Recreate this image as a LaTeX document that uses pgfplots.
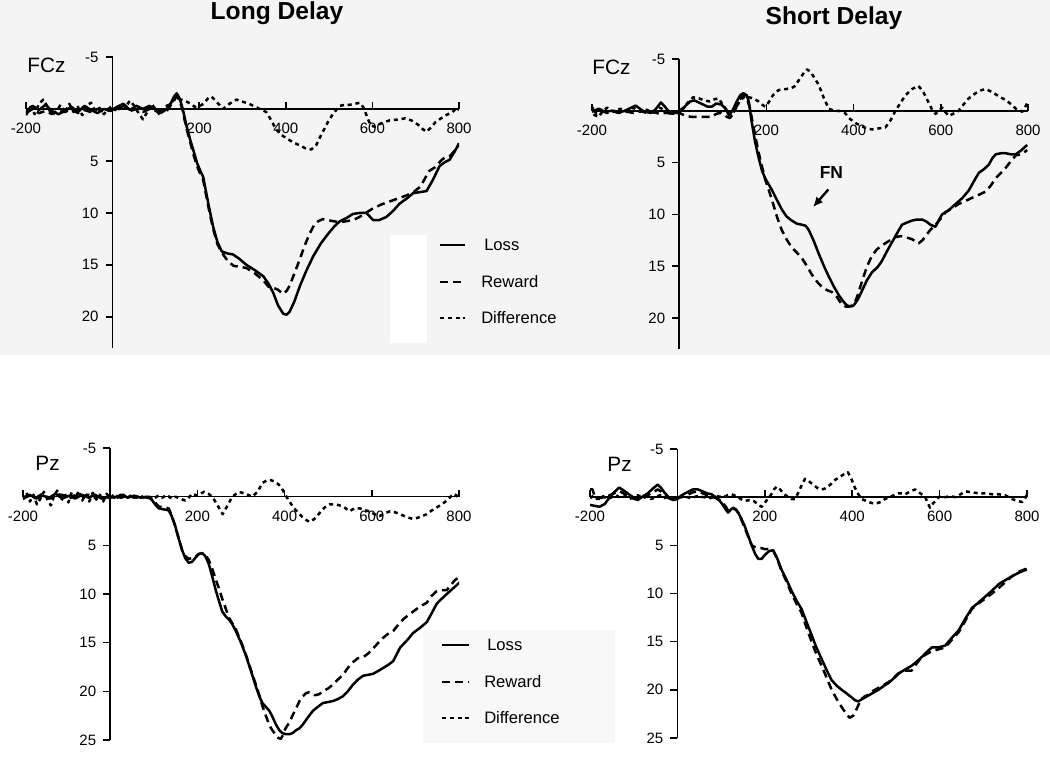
\documentclass[border=0pt]{standalone}
\usepackage{fontspec}
\setmainfont{Liberation Sans}
\usepackage{pgfplots}
\pgfplotsset{compat=1.18}
\usetikzlibrary{arrows.meta}

\definecolor{bandgray}{RGB}{244,244,244}
\definecolor{boxgray}{RGB}{248,248,248}

\tikzset{
  loss/.style={solid},
  reward/.style={dash pattern=on 4pt off 2.5pt},
  diff/.style={dash pattern=on 2pt off 1.9pt},
}
\pgfplotsset{
  erp/.style={
    scale only axis,
    axis lines=middle,
    axis line style={-, line width=0.75pt},
    y dir=reverse,
    xmin=-200, xmax=800,
    xtick={-200,200,400,600,800},
    xticklabels={-200,200,400,600,800},
    tick align=outside,
    major tick length=3.5pt,
    tick style={black, line width=0.75pt},
    tick label style={font=\fontsize{7.5}{9}\selectfont},
    every axis plot/.append style={line width=1.25pt, black, line join=round},
  },
}

\begin{document}
\begin{tikzpicture}
\useasboundingbox (0pt,0pt) rectangle (525pt,379pt);
% backgrounds of the scanned figure
\fill[bandgray] (0pt,201.5pt) rectangle (525pt,379pt);
\fill[white] (195pt,207.5pt) rectangle (213.5pt,261.5pt);
\fill[boxgray] (211.5pt,7.5pt) rectangle (307.5pt,64pt);

% titles
\node[anchor=base, font=\bfseries\fontsize{12.3}{14}\selectfont] at (138.5pt,369pt) {Long Delay};
\node[anchor=base, font=\bfseries\fontsize{12.3}{14}\selectfont] at (417pt,366.5pt) {Short Delay};

% ---------- Long delay, FCz ----------
\begin{axis}[erp, at={(13pt,350.5pt)}, anchor=north west,
  width=216.5pt, height=145.5pt, ymin=-5, ymax=23,
  ytick={-5,5,10,15,20}, yticklabels={-5,5,10,15,20}]
\addplot[loss] coordinates {
(-200,0.3) (-185,-0.3) (-170,0.1) (-155,-0.4) (-140,0.2) (-125,0.5) (-110,0.2) (-95,-0.2) (-80,0.3) (-65,-0.3) (-50,0.1) (-35,0.4) (-20,0.0) (-5,0.2) (10,-0.2) (25,-0.5) (40,0.1) (55,-0.3) (70,0.0) (85,-0.3) (100,0.1) (115,0.3) (125,0.0) (135,-0.6) (142,-1.2) (148,-1.5) (155,-1.0) (162,0.0) (170,1.5) (178,2.8) (186,3.9) (195,5.2) (203,6.0) (209,6.5) (215,7.8) (222,9.3) (232,11.3) (242,12.8) (252,13.7) (265,13.9) (278,14.0) (292,14.4) (309,15.0) (328,15.5) (348,16.1) (360,16.8) (371,17.7) (382,18.9) (394,19.7) (402,19.8) (409,19.5) (420,18.5) (432,17.1) (447,15.6) (463,14.2) (480,13.0) (498,12.0) (512,11.3) (525,10.8) (540,10.5) (555,10.1) (572,10.0) (586,10.0) (595,10.4) (602,10.7) (615,10.7) (632,10.4) (648,9.8) (663,9.1) (680,8.6) (694,8.1) (710,8.0) (725,7.9) (740,6.8) (755,5.5) (768,5.1) (778,4.9) (790,4.1) (800,3.3)
};
\addplot[reward] coordinates {
(-200,0.4) (-185,0.0) (-170,0.4) (-155,0.2) (-140,0.5) (-125,0.1) (-110,0.3) (-95,0.0) (-80,0.4) (-65,0.1) (-50,0.3) (-35,0.0) (-20,0.3) (-5,0.1) (10,0.0) (25,-0.3) (40,0.2) (55,0.0) (70,0.3) (85,0.0) (100,0.2) (115,0.4) (125,0.2) (135,-0.4) (142,-0.9) (148,-1.2) (155,-0.8) (162,0.2) (170,1.8) (178,3.0) (186,4.3) (195,5.5) (203,6.3) (209,6.8) (216,8.3) (224,10.0) (232,11.5) (242,13.0) (252,13.8) (262,14.4) (270,14.8) (280,15.1) (295,15.2) (309,15.3) (328,15.8) (348,16.5) (360,17.1) (371,17.2) (382,17.4) (394,17.8) (402,17.5) (409,17.0) (420,15.8) (432,14.5) (443,13.2) (455,12.0) (465,11.2) (475,10.8) (485,10.6) (497,10.7) (510,10.8) (525,10.9) (540,10.8) (555,10.7) (570,10.4) (585,10.0) (600,9.6) (620,9.2) (640,8.9) (660,8.6) (680,8.3) (695,8.0) (710,7.5) (720,6.8) (730,6.0) (745,5.6) (760,4.9) (770,4.6) (780,4.5) (790,4.0) (800,3.5)
};
\addplot[diff] coordinates {
(-200,0.6) (-190,-0.2) (-180,0.5) (-170,-0.5) (-160,-0.9) (-150,-0.2) (-140,0.6) (-130,0.2) (-120,-0.4) (-110,0.4) (-100,-0.5) (-90,0.3) (-80,-0.2) (-70,0.6) (-60,-0.3) (-50,-0.6) (-40,0.2) (-30,-0.1) (-20,0.5) (-10,0.0) (0,-0.3) (10,0.3) (20,-0.5) (30,-0.2) (40,-0.8) (50,-0.3) (60,0.4) (70,1.0) (80,0.3) (90,-0.5) (100,0.1) (110,0.6) (120,-0.2) (130,-0.4) (140,-0.8) (148,-1.0) (158,-0.9) (167,-0.8) (180,-0.5) (190,-0.2) (198,-0.2) (210,-0.5) (220,-1.0) (228,-1.2) (240,-0.7) (255,0.0) (270,-0.5) (286,-0.9) (300,-0.7) (315,-0.5) (325,-0.3) (340,0.0) (355,0.3) (365,1.0) (378,2.0) (390,2.5) (401,2.8) (416,3.2) (432,3.5) (446,3.8) (459,3.9) (470,3.5) (478,2.8) (488,2.0) (498,1.2) (510,0.4) (525,-0.3) (537,-0.4) (548,-0.4) (560,-0.5) (571,-0.6) (580,-0.1) (588,0.8) (596,1.6) (605,1.7) (615,1.5) (625,1.3) (640,1.1) (663,1.0) (676,0.9) (690,1.1) (705,1.5) (715,1.9) (725,2.2) (735,1.8) (745,1.3) (755,1.0) (770,0.6) (785,0.3) (795,-0.1) (800,0.1)
};
\end{axis}

% ---------- Short delay, FCz ----------
\begin{axis}[erp, at={(296pt,349.5pt)}, anchor=north west,
  width=218pt, height=145pt, ymin=-5, ymax=23,
  ytick={-5,5,10,15,20}, yticklabels={-5,5,10,15,20}]
\addplot[loss] coordinates {
(-200,0.1) (-185,-0.2) (-170,0.1) (-155,0.0) (-140,0.2) (-125,0.0) (-110,-0.3) (-100,-0.5) (-90,-0.2) (-80,0.1) (-65,0.2) (-55,-0.1) (-42,-0.8) (-35,-0.5) (-25,0.0) (-15,0.3) (-5,0.1) (5,0.0) (15,-0.5) (25,-0.9) (35,-1.0) (45,-0.8) (55,-0.6) (65,-0.4) (75,-0.4) (85,-0.7) (97,-0.6) (106,-0.2) (114,0.4) (122,0.0) (132,-0.9) (140,-1.5) (147,-1.7) (155,-1.5) (160,-0.8) (166,1.0) (174,3.0) (182,4.5) (190,5.8) (197,6.5) (205,7.1) (212,7.6) (224,8.6) (235,9.5) (246,10.2) (258,10.6) (270,10.9) (281,11.0) (290,11.1) (297,11.5) (308,12.5) (320,13.8) (332,15.0) (343,16.0) (355,17.0) (366,17.8) (376,18.4) (385,18.8) (393,18.9) (400,18.8) (410,18.2) (419,17.4) (430,16.4) (442,15.6) (455,15.1) (465,14.5) (476,13.6) (488,12.7) (500,11.8) (511,11.0) (522,10.8) (534,10.6) (545,10.5) (557,10.5) (567,10.7) (576,11.0) (588,11.2) (595,10.6) (603,10.0) (618,9.6) (634,9.0) (650,8.4) (664,7.7) (676,6.8) (687,6.0) (700,5.6) (710,5.2) (718,4.6) (726,4.2) (738,4.1) (749,4.1) (760,4.2) (772,4.2) (785,3.8) (798,3.3)
};
\addplot[reward] coordinates {
(-200,-0.3) (-190,0.3) (-180,0.0) (-165,0.2) (-150,0.0) (-135,0.2) (-120,0.1) (-105,0.2) (-90,0.0) (-75,0.2) (-60,0.1) (-45,0.3) (-30,0.2) (-15,0.3) (0,0.2) (15,0.5) (30,0.6) (45,0.6) (60,0.6) (74,0.6) (85,0.3) (95,0.2) (105,0.5) (116,0.7) (126,0.2) (135,-0.8) (142,-1.3) (147,-1.5) (155,-1.2) (162,-0.3) (170,1.5) (182,4.0) (190,5.4) (197,6.6) (205,7.6) (212,8.5) (224,10.2) (235,11.5) (246,12.4) (258,13.2) (270,13.7) (281,14.2) (293,15.0) (304,15.8) (316,16.5) (327,17.0) (338,17.3) (350,17.5) (362,18.0) (373,18.7) (382,18.9) (389,18.9) (397,18.8) (404,18.4) (411,17.6) (419,16.5) (430,15.1) (442,14.0) (453,13.4) (465,13.0) (480,12.6) (496,12.2) (508,12.1) (519,12.2) (534,12.4) (549,12.8) (558,12.5) (565,12.1) (576,11.5) (588,11.0) (600,10.4) (611,9.8) (626,9.4) (641,9.0) (657,8.7) (672,8.4) (688,8.1) (703,7.8) (715,7.2) (726,6.5) (738,6.0) (749,5.5) (760,4.9) (772,4.3) (785,4.2) (798,3.8)
};
\addplot[diff] coordinates {
(-200,-0.4) (-195,0.4) (-185,0.6) (-175,0.0) (-165,-0.3) (-150,0.1) (-135,-0.2) (-120,0.1) (-105,-0.3) (-90,0.1) (-75,-0.1) (-60,0.2) (-45,-0.3) (-30,0.0) (-15,0.2) (0,0.0) (10,-0.3) (20,-0.8) (32,-1.3) (45,-1.2) (58,-1.0) (70,-0.9) (80,-1.1) (90,-1.2) (100,-0.6) (110,0.0) (120,0.5) (130,-0.3) (140,-1.0) (151,-1.4) (160,-1.3) (170,-1.2) (182,-0.9) (190,-0.6) (197,-0.4) (205,-0.8) (215,-1.5) (228,-2.0) (245,-2.1) (258,-2.2) (266,-2.4) (275,-3.0) (285,-3.6) (293,-4.0) (300,-3.8) (310,-3.2) (320,-2.5) (332,-1.2) (343,-0.2) (355,0.0) (366,0.0) (380,0.2) (392,0.8) (405,1.2) (419,1.5) (430,1.7) (442,1.8) (458,1.7) (473,1.6) (485,0.9) (496,0.0) (508,-0.8) (519,-1.5) (534,-2.1) (549,-2.4) (560,-1.8) (572,-0.8) (580,-0.1) (588,0.3) (596,0.0) (603,-0.3) (610,0.1) (618,0.5) (628,0.3) (641,0.0) (652,-0.6) (664,-1.2) (680,-1.7) (694,-2.0) (703,-2.1) (718,-1.8) (733,-1.4) (750,-1.0) (762,-0.6) (772,-0.2) (787,0.1) (798,-0.7)
};
\draw[-{Latex[length=5pt,width=4.5pt]}, line width=1.2pt] (axis cs:342,7.6) -- (axis cs:307,9.3);
\node[font=\bfseries\fontsize{8.7}{10}\selectfont] at (axis cs:349,6.0) {FN};
\end{axis}

% ---------- Long delay, Pz ----------
\begin{axis}[erp, at={(11.5pt,155pt)}, anchor=north west,
  width=218pt, height=146pt, ymin=-5, ymax=25,
  ytick={-5,5,10,15,20,25}, yticklabels={-5,5,10,15,20,25}]
\addplot[loss] coordinates {
(-200,0.1) (-185,-0.2) (-170,0.2) (-155,-0.1) (-140,0.1) (-125,-0.3) (-110,0.2) (-95,-0.1) (-80,0.2) (-65,-0.2) (-50,0.1) (-35,-0.2) (-20,0.2) (-5,0.0) (10,0.1) (25,-0.2) (40,0.1) (55,-0.1) (70,0.1) (85,0.0) (95,0.3) (103,0.8) (111,1.2) (122,1.3) (134,1.4) (141,2.0) (149,3.0) (157,4.3) (165,5.5) (172,6.3) (180,6.8) (188,6.7) (195,6.3) (203,5.9) (211,5.8) (218,6.1) (226,6.9) (234,8.2) (242,9.6) (250,10.8) (257,11.8) (265,12.3) (272,12.6) (280,13.1) (288,13.8) (300,15.0) (311,16.3) (322,17.8) (334,19.5) (342,20.5) (349,21.2) (357,21.6) (365,22.0) (372,22.6) (380,23.4) (388,24.0) (395,24.3) (403,24.4) (411,24.4) (418,24.3) (426,24.0) (434,23.8) (442,23.4) (453,22.7) (465,22.0) (476,21.6) (488,21.2) (500,21.1) (511,21.0) (522,20.8) (534,20.5) (545,20.0) (557,19.3) (568,18.8) (580,18.4) (592,18.3) (603,18.2) (615,17.9) (626,17.6) (637,17.3) (649,16.9) (657,16.2) (665,15.5) (680,14.8) (695,14.0) (710,13.5) (726,12.9) (737,12.0) (749,11.0) (760,10.5) (772,10.0) (787,9.4) (802,8.8)
};
\addplot[reward] coordinates {
(-200,0.2) (-185,-0.1) (-170,0.1) (-155,-0.3) (-140,0.2) (-125,0.0) (-110,-0.2) (-95,0.2) (-80,-0.1) (-65,0.1) (-50,-0.2) (-35,0.1) (-20,-0.1) (-5,0.1) (10,0.0) (25,0.1) (40,-0.1) (55,0.1) (70,0.0) (85,0.1) (95,0.2) (103,0.6) (111,1.0) (122,1.1) (134,1.2) (141,1.9) (149,3.0) (157,4.3) (165,5.5) (172,6.1) (180,6.4) (188,6.3) (195,6.2) (203,5.9) (211,5.8) (218,6.0) (226,6.5) (234,7.4) (242,8.5) (250,9.5) (257,10.5) (265,11.5) (272,12.4) (280,13.0) (288,13.6) (300,14.9) (311,16.2) (322,17.7) (334,19.3) (342,20.4) (349,21.5) (357,22.5) (365,23.5) (372,24.0) (380,24.5) (386,24.8) (391,24.9) (396,24.5) (400,24.0) (405,23.6) (411,23.2) (418,22.5) (426,21.8) (434,21.0) (442,20.5) (449,20.2) (455,20.1) (462,20.2) (470,20.4) (479,20.3) (488,20.0) (500,19.7) (511,19.3) (522,18.8) (534,18.3) (545,17.6) (557,17.0) (568,16.6) (580,16.5) (592,16.1) (603,15.6) (615,15.0) (626,14.5) (637,14.1) (649,13.8) (660,13.2) (672,12.6) (683,12.2) (695,11.8) (710,11.3) (726,10.9) (737,10.2) (749,9.7) (760,9.6) (772,9.6) (781,9.1) (790,8.6) (802,8.2)
};
\addplot[diff] coordinates {
(-200,0.3) (-192,-0.4) (-184,0.5) (-176,-0.2) (-168,0.8) (-160,0.2) (-152,-0.5) (-144,0.3) (-136,0.9) (-128,-0.2) (-120,-0.7) (-112,0.4) (-104,-0.3) (-96,0.6) (-88,-0.5) (-80,0.2) (-72,-0.6) (-64,0.4) (-56,-0.3) (-48,0.5) (-40,-0.4) (-32,0.3) (-24,-0.2) (-16,0.5) (-8,-0.3) (0,0.2) (10,-0.3) (20,0.2) (30,-0.2) (40,0.1) (50,-0.2) (60,0.1) (70,-0.1) (80,0.2) (90,0.0) (100,0.2) (110,-0.1) (120,0.1) (130,-0.2) (140,0.2) (150,0.0) (160,0.2) (172,0.4) (180,0.1) (188,-0.3) (200,-0.1) (215,-0.5) (225,-0.3) (234,0.0) (245,0.8) (258,1.8) (268,1.0) (280,0.0) (295,-0.5) (310,-0.3) (326,0.0) (338,-0.5) (349,-1.4) (360,-1.7) (368,-1.7) (380,-1.5) (392,-1.0) (400,-0.3) (411,0.5) (422,1.2) (434,1.8) (446,2.3) (457,2.6) (468,2.3) (480,1.7) (492,1.1) (503,0.8) (518,0.8) (534,1.0) (549,1.5) (560,1.2) (572,1.2) (584,1.4) (595,1.5) (606,1.8) (618,2.0) (630,1.7) (642,1.5) (653,1.6) (665,1.8) (680,2.1) (695,2.3) (710,2.1) (726,1.8) (741,1.3) (757,0.9) (772,0.4) (788,-0.3) (795,-0.1) (802,0.3)
};
\end{axis}

% ---------- Short delay, Pz ----------
\begin{axis}[erp, at={(295pt,154.5pt)}, anchor=north west,
  width=218.5pt, height=144.5pt, ymin=-5, ymax=25,
  ytick={-5,5,10,15,20,25}, yticklabels={-5,5,10,15,20,25}]
\addplot[loss] coordinates {
(-200,0.8) (-190,0.9) (-178,1.0) (-166,0.7) (-155,0.0) (-145,-0.5) (-133,-1.0) (-120,-0.6) (-108,-0.2) (-98,0.1) (-88,0.2) (-78,-0.1) (-68,-0.4) (-56,-0.9) (-45,-1.3) (-38,-1.0) (-30,-0.5) (-20,0.0) (-10,0.3) (0,0.2) (10,-0.2) (22,-0.5) (35,-0.8) (47,-0.8) (58,-0.6) (68,-0.4) (78,-0.3) (88,0.0) (97,0.4) (104,0.8) (111,1.3) (116,1.6) (122,1.3) (128,1.1) (134,1.3) (139,1.6) (146,2.2) (154,3.0) (162,4.0) (170,5.0) (178,5.9) (185,6.4) (193,6.4) (200,6.0) (210,5.6) (219,5.5) (228,6.3) (238,7.5) (250,8.6) (261,9.7) (272,10.7) (284,11.6) (295,12.9) (307,14.3) (318,15.6) (330,16.8) (342,18.0) (353,19.0) (365,19.6) (376,20.0) (388,20.4) (399,20.8) (407,21.1) (414,21.2) (425,20.9) (437,20.6) (448,20.3) (460,20.0) (472,19.6) (483,19.3) (495,18.8) (506,18.3) (521,17.9) (536,17.5) (547,17.1) (559,16.6) (570,16.1) (582,15.6) (597,15.6) (613,15.4) (628,14.6) (644,13.8) (659,12.6) (674,11.5) (690,10.9) (705,10.3) (720,9.7) (736,9.0) (751,8.6) (766,8.2) (783,7.8) (800,7.5)
};
\addplot[reward] coordinates {
(-200,-0.8) (-194,-0.8) (-188,0.2) (-178,0.1) (-166,0.0) (-155,-0.2) (-145,-0.4) (-133,-0.65) (-120,-0.3) (-108,0.0) (-98,0.2) (-88,0.3) (-78,0.1) (-68,-0.2) (-56,-0.5) (-45,-0.8) (-38,-0.6) (-30,-0.2) (-20,0.1) (-10,0.3) (0,0.1) (10,0.0) (22,-0.2) (35,-0.5) (47,-0.6) (58,-0.4) (68,-0.2) (78,-0.1) (88,0.1) (97,0.3) (104,0.6) (111,1.0) (116,1.4) (122,1.3) (128,1.2) (134,1.3) (139,1.6) (146,2.3) (154,3.2) (162,4.1) (170,5.0) (178,5.2) (185,5.3) (193,5.3) (200,5.4) (210,5.4) (219,5.5) (228,6.4) (238,7.6) (250,8.8) (261,10.0) (272,11.0) (284,12.0) (295,13.5) (307,15.0) (318,16.3) (330,17.5) (342,18.8) (353,20.0) (365,21.0) (376,21.8) (385,22.4) (394,22.9) (402,22.7) (410,22.0) (420,21.0) (428,20.7) (437,20.5) (448,20.1) (460,19.8) (472,19.5) (483,19.2) (495,18.8) (506,18.3) (521,18.0) (536,18.0) (547,17.3) (559,16.6) (570,16.3) (582,16.0) (597,15.8) (613,15.6) (628,14.8) (644,14.0) (659,12.8) (674,11.6) (690,11.0) (705,10.5) (720,10.0) (736,9.4) (751,8.8) (766,8.2) (783,7.7) (800,7.4)
};
\addplot[diff] coordinates {
(-200,0.1) (-190,-0.2) (-180,0.2) (-170,-0.1) (-160,0.2) (-150,0.0) (-140,-0.2) (-130,0.1) (-120,-0.1) (-110,0.2) (-100,0.0) (-90,-0.2) (-80,0.1) (-70,-0.1) (-60,0.2) (-50,0.0) (-40,-0.2) (-30,0.1) (-20,-0.1) (-10,0.1) (0,0.0) (15,-0.1) (30,0.1) (45,-0.1) (60,0.0) (75,0.1) (90,-0.1) (105,0.0) (115,-0.2) (124,-0.3) (135,-0.1) (145,0.2) (154,0.4) (165,0.3) (175,0.4) (185,0.8) (193,1.0) (200,0.6) (208,0.1) (215,-0.3) (221,-0.8) (227,-1.1) (235,-0.8) (244,-0.3) (254,0.0) (262,0.2) (269,0.2) (277,-0.5) (285,-1.3) (292,-1.9) (300,-1.7) (310,-1.3) (322,-0.9) (330,-0.8) (338,-0.9) (350,-1.3) (361,-1.8) (375,-2.2) (385,-2.5) (390,-2.6) (398,-1.9) (406,-1.0) (414,-0.3) (422,0.2) (437,0.5) (452,0.7) (465,0.5) (475,0.2) (490,-0.1) (506,-0.4) (515,-0.4) (521,-0.3) (533,-0.6) (544,-0.8) (556,-0.4) (567,0.0) (573,0.6) (578,1.1) (586,0.6) (598,0.0) (606,-0.1) (613,0.0) (625,-0.1) (636,0.0) (648,-0.3) (659,-0.6) (674,-0.5) (689,-0.4) (705,-0.4) (720,-0.3) (735,-0.3) (750,-0.2) (758,0.0) (766,0.2) (778,0.4) (789,0.5) (795,0.2) (800,-0.3)
};
\end{axis}

% panel labels
\node[anchor=base west, inner sep=0pt, font=\fontsize{10.4}{12}\selectfont] at (13.5pt,342.5pt) {FCz};
\node[anchor=base west, inner sep=0pt, font=\fontsize{10.4}{12}\selectfont] at (296pt,341.5pt) {FCz};
\node[anchor=base west, inner sep=0pt, font=\fontsize{10.4}{12}\selectfont] at (17.5pt,143.5pt) {Pz};
\node[anchor=base west, inner sep=0pt, font=\fontsize{10.4}{12}\selectfont] at (303.5pt,143pt) {Pz};

% legends
\begin{scope}[line width=1.25pt, font=\fontsize{8.3}{10}\selectfont]
\draw[loss] (220pt,256.5pt) -- (232.5pt,256.5pt);
\draw[reward] (220pt,238pt) -- (232.5pt,238pt);
\draw[diff] (220pt,220pt) -- (232.5pt,220pt);
\node[anchor=west, inner sep=0pt] at (241.5pt,256.5pt) {Loss};
\node[anchor=west, inner sep=0pt] at (240pt,238pt) {Reward};
\node[anchor=west, inner sep=0pt] at (240pt,220pt) {Difference};
\draw[loss] (221pt,56.5pt) -- (234.5pt,56.5pt);
\draw[reward] (221pt,38pt) -- (234.5pt,38pt);
\draw[diff] (221pt,20pt) -- (234.5pt,20pt);
\node[anchor=west, inner sep=0pt] at (243pt,56.5pt) {Loss};
\node[anchor=west, inner sep=0pt] at (241.5pt,38pt) {Reward};
\node[anchor=west, inner sep=0pt] at (241.5pt,20pt) {Difference};
\end{scope}
\end{tikzpicture}
\end{document}
